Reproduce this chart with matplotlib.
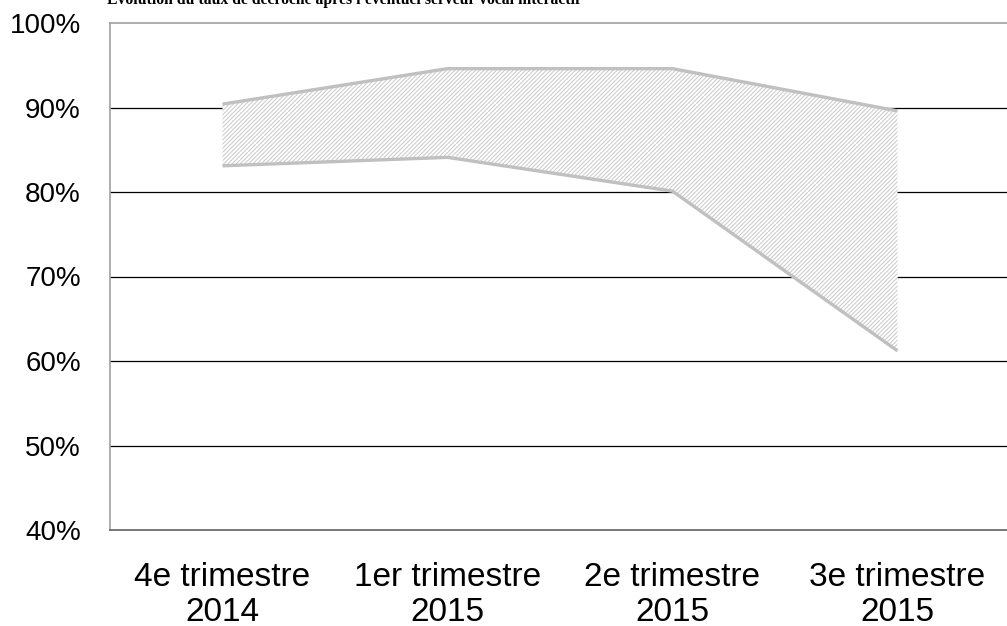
import matplotlib.pyplot as plt

plt.rcParams['font.family'] = ['Liberation Sans', 'DejaVu Sans']
plt.rcParams['hatch.linewidth'] = 0.7
plt.rcParams['hatch.color'] = '#c8c8c8'

# =========================================================
# DATA
# =========================================================
quarters = ["4e trimestre\n2014", "1er trimestre\n2015", "2e trimestre\n2015", "3e trimestre\n2015"]
upper = [90.4, 94.6, 94.6, 89.6]
lower = [83.1, 84.1, 80.1, 61.2]
yticks = [40, 50, 60, 70, 80, 90, 100]
title = "Évolution du taux de décroché après l'éventuel serveur vocal interactif"

fig = plt.figure(figsize=(10.07, 6.26), dpi=100)
ax = fig.add_axes([110 / 1007, 1 - 530 / 626, 900 / 1007, 507 / 626])

x = list(range(len(quarters)))

# gridlines (behind the band)
for v in yticks[1:-1]:
    ax.axhline(v, color='black', lw=0.9, zorder=1)

ax.fill_between(x, lower, upper, facecolor='white', edgecolor='none',
                hatch='/' * 8, zorder=2)
ax.plot(x, upper, color='#c0c0c0', lw=2.4, zorder=3, solid_capstyle='butt')
ax.plot(x, lower, color='#c0c0c0', lw=2.4, zorder=3, solid_capstyle='butt')

ax.set_xlim(-0.5, 3.5)
ax.set_ylim(40, 100)
ax.set_yticks(yticks)
ax.set_yticklabels([f"{v}%" for v in yticks], fontsize=20)
ax.set_xticks(x)
ax.set_xticklabels(quarters, fontsize=24, linespacing=1.15)
ax.tick_params(length=0)
ax.tick_params(axis='y', pad=21)
ax.tick_params(axis='x', pad=23)

ax.spines['right'].set_visible(False)
ax.spines['top'].set_color('#a0a0a0')
ax.spines['left'].set_color('#a0a0a0')
ax.spines['bottom'].set_color('#606060')
for s in ax.spines.values():
    s.set_linewidth(1.2)

fig.text(107 / 1007, 1 - 4.5 / 626, title, family='Liberation Serif',
         fontweight='bold', fontsize=11.3, ha='left', va='baseline')

fig.savefig("out.png", dpi=100)
